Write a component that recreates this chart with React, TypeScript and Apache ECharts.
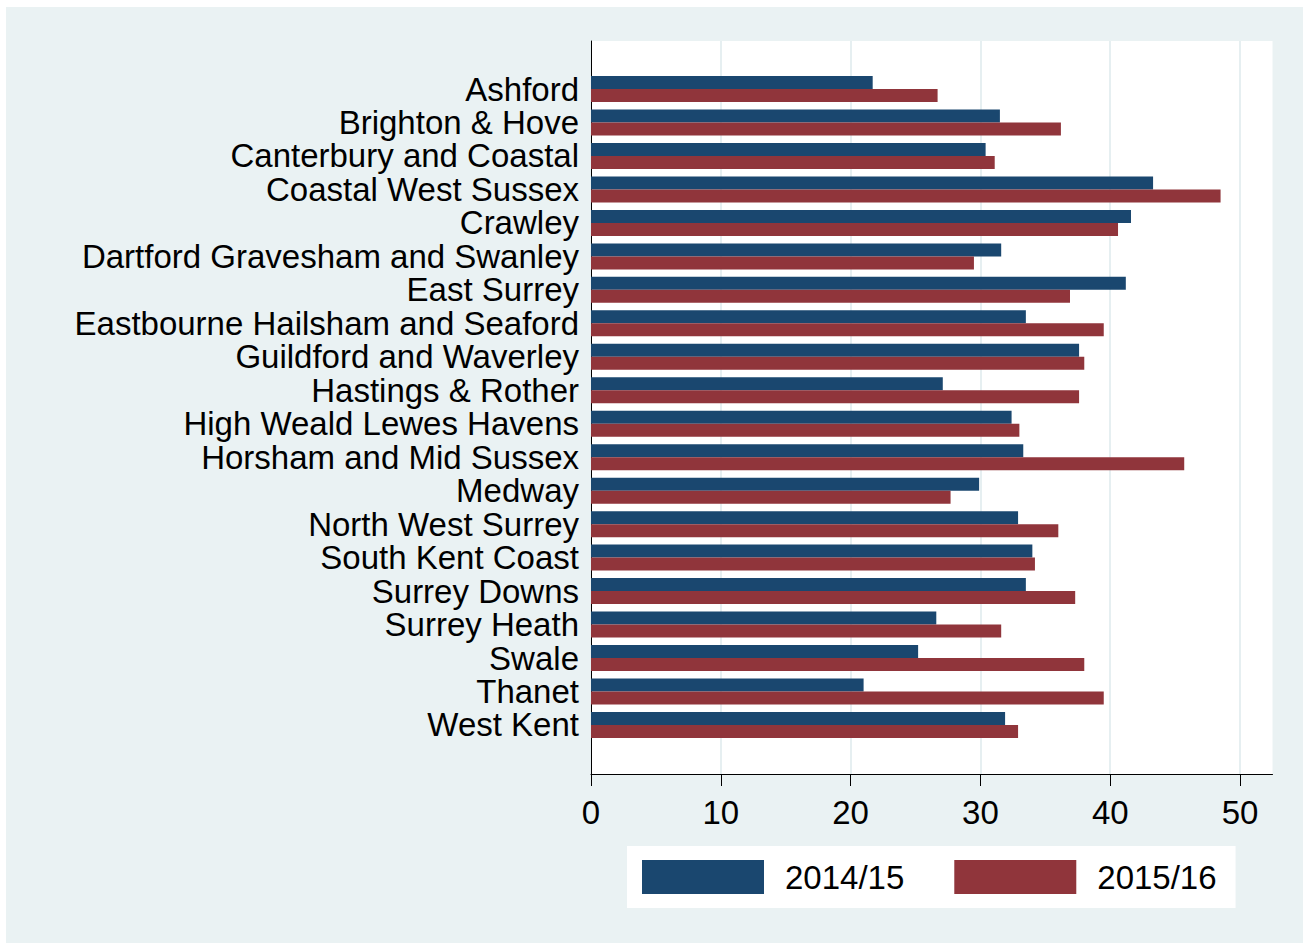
import React, { useEffect, useRef } from "react";
import * as echarts from "echarts";

const categories = [
  "Ashford",
  "Brighton & Hove",
  "Canterbury and Coastal",
  "Coastal West Sussex",
  "Crawley",
  "Dartford Gravesham and Swanley",
  "East Surrey",
  "Eastbourne Hailsham and Seaford",
  "Guildford and Waverley",
  "Hastings & Rother",
  "High Weald Lewes Havens",
  "Horsham and Mid Sussex",
  "Medway",
  "North West Surrey",
  "South Kent Coast",
  "Surrey Downs",
  "Surrey Heath",
  "Swale",
  "Thanet",
  "West Kent",
];

const values2014 = [
  21.7, 31.5, 30.4, 43.3, 41.6, 31.6, 41.2, 33.5, 37.6, 27.1, 32.4, 33.3, 29.9,
  32.9, 34.0, 33.5, 26.6, 25.2, 21.0, 31.9,
];

const values2015 = [
  26.7, 36.2, 31.1, 48.5, 40.6, 29.5, 36.9, 39.5, 38.0, 37.6, 33.0, 45.7, 27.7,
  36.0, 34.2, 37.3, 31.6, 38.0, 39.5, 32.9,
];

const xTicks = [0, 10, 20, 30, 40, 50];
const seriesNames = ["2014/15", "2015/16"];

const FONT = '"Liberation Sans", Arial, Helvetica, sans-serif';

export default function App() {
  const ref = useRef<HTMLDivElement>(null);

  useEffect(() => {
    document.body.style.margin = "0";
    if (!ref.current) return;
    const chart = echarts.init(ref.current, null, { renderer: "svg" });
    // chart origin is at page (6,7)
    const plotLeft = 585;
    const plotTop = 34;
    const plotWidth = 681.5;
    const plotHeight = 733;
    const xMax = 52.5;
    chart.setOption({
      animation: false,
      backgroundColor: "transparent",
      textStyle: { fontFamily: FONT },
      grid: [
        {
          left: plotLeft,
          top: plotTop,
          width: plotWidth,
          height: plotHeight,
          show: true,
          backgroundColor: "#ffffff",
          borderWidth: 0,
          containLabel: false,
        },
        {
          left: plotLeft,
          top: 65.3,
          width: plotWidth,
          height: 669.4,
          containLabel: false,
        },
      ],
      xAxis: [
        {
          type: "value",
          gridIndex: 0,
          min: 0,
          max: xMax,
          interval: 10,
          axisLine: { show: true, lineStyle: { color: "#000000", width: 1 } },
          axisTick: {
            show: true,
            length: 12,
            lineStyle: { color: "#000000", width: 1 },
            customValues: xTicks,
          },
          axisLabel: {
            show: true,
            customValues: xTicks,
            formatter: (v: number) => (v % 10 === 0 ? String(v) : ""),
            fontSize: 33,
            color: "#000000",
            margin: 22,
            fontFamily: FONT,
          },
          splitLine: {
            show: true,
            lineStyle: { color: "#e6eff1", width: 2 },
          },
        },
        {
          type: "value",
          gridIndex: 1,
          min: 0,
          max: xMax,
          show: false,
        },
      ],
      yAxis: [
        {
          type: "value",
          gridIndex: 0,
          min: 0,
          max: 1,
          axisLine: { show: true, lineStyle: { color: "#000000", width: 1 } },
          axisTick: { show: false },
          axisLabel: { show: false },
          splitLine: { show: false },
        },
        {
          type: "category",
          gridIndex: 1,
          data: categories,
          inverse: true,
          axisLine: { show: false },
          axisTick: { show: false },
          splitLine: { show: false },
          axisLabel: {
            interval: 0,
            hideOverlap: false,
            fontSize: 33,
            lineHeight: 33,
            color: "#000000",
            margin: 12,
            fontFamily: FONT,
          },
        },
      ],
      legend: {
        show: true,
        left: 621,
        top: 839,
        orient: "horizontal",
        backgroundColor: "#ffffff",
        borderWidth: 0,
        padding: [14, 19, 14, 15],
        itemWidth: 122,
        itemHeight: 34,
        itemGap: 50,
        icon: "rect",
        selectedMode: false,
        data: seriesNames,
        textStyle: {
          fontSize: 33,
          color: "#000000",
          fontFamily: FONT,
          padding: [0, 0, 0, 16],
        },
      },
      series: [
        {
          name: seriesNames[0],
          type: "bar",
          xAxisIndex: 1,
          yAxisIndex: 1,
          data: values2014,
          barWidth: 13,
          barGap: "0%",
          itemStyle: { color: "#1a476f" },
        },
        {
          name: seriesNames[1],
          type: "bar",
          xAxisIndex: 1,
          yAxisIndex: 1,
          data: values2015,
          barWidth: 13,
          barGap: "0%",
          itemStyle: { color: "#90353b" },
        },
      ],
    });
    return () => chart.dispose();
  }, []);

  return (
    <div
      style={{
        position: "relative",
        width: 1303,
        height: 949,
        background: "#ffffff",
        overflow: "hidden",
      }}
    >
      <div
        style={{
          position: "absolute",
          left: 6,
          top: 7,
          width: 1297,
          height: 936,
          background: "#eaf2f3",
        }}
      >
        <div ref={ref} style={{ width: 1297, height: 936 }} />
      </div>
    </div>
  );
}
